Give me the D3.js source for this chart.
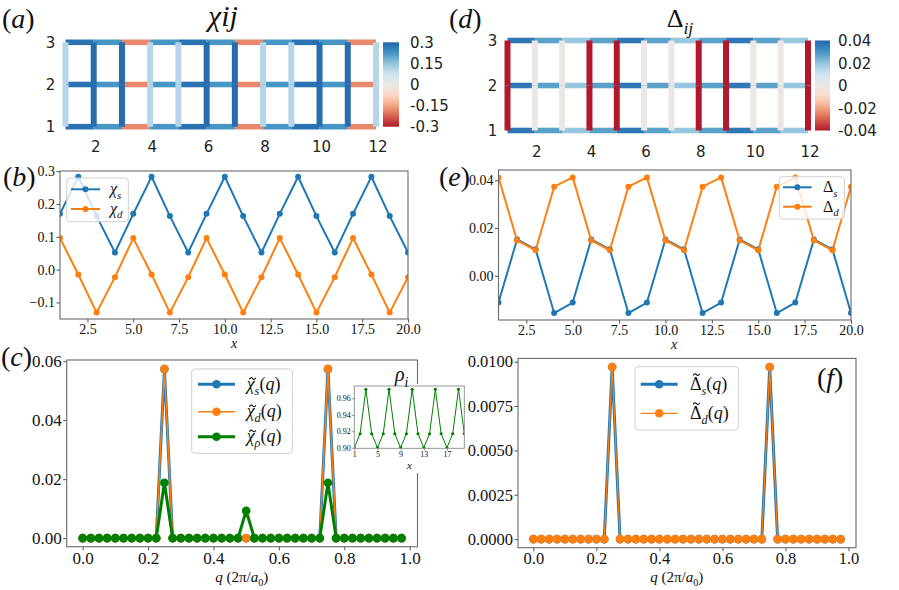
<!DOCTYPE html>
<html><head><meta charset="utf-8">
<script src="https://cdn.jsdelivr.net/npm/d3@7"></script>
<style>
body{margin:0;background:#fff;font-family:serif}
svg{display:block;font-family:serif}
svg text{font-family:serif}
svg text.sans{font-family:"DejaVu Sans",sans-serif}
</style>
</head><body>
<svg id="fig" width="899" height="590" font-family="serif"></svg>
<script>
// ---------------- DATA ----------------
const latticeCols = [1,2,3,4,5,6,7,8,9,10,11,12];
const latticeRows = [1,2,3];
const latticeXTicks = [2,4,6,8,10,12];
// chi_ij bonds (a): horizontal bonds per row (bond i -> i+1), vertical bonds per column
const chiH1 = [0.28,0.22,-0.18,0.22,0.28,0.22,-0.18,0.22,0.28,0.22,-0.18];
const chiH2 = [0.28,0.22,-0.18,0.22,0.28,0.22,-0.18,0.22,0.28,0.22,-0.18];
const chiH3 = [0.28,0.22,-0.18,0.22,0.28,0.22,-0.18,0.22,0.28,0.22,-0.18];
const chiV12 = [0.11,0.29,0.29,0.11,0.11,0.29,0.29,0.11,0.11,0.29,0.29,0.11];
const chiV23 = [0.11,0.29,0.29,0.11,0.11,0.29,0.29,0.11,0.11,0.29,0.29,0.11];
const chiCbTicks = [0.3,0.15,0,-0.15,-0.3];
const chiCbLabels = ["0.3","0.15","0","-0.15","-0.3"];
// Delta_ij bonds (d)
const dH1 = [0.036,0.027,0.019,0.027,0.036,0.027,0.019,0.027,0.036,0.027,0.019];
const dH2 = [0.036,0.027,0.019,0.027,0.036,0.027,0.019,0.027,0.036,0.027,0.019];
const dH3 = [0.036,0.027,0.019,0.027,0.036,0.027,0.019,0.027,0.036,0.027,0.019];
const dV12 = [-0.04,0,0,-0.04,-0.04,0,0,-0.04,-0.04,0,0,-0.04];
const dV23 = [-0.04,0,0,-0.04,-0.04,0,0,-0.04,-0.04,0,0,-0.04];
const dCbTicks = [0.04,0.02,0,-0.02,-0.04];
const dCbLabels = ["0.04","0.02","0","-0.02","-0.04"];

// real-space profiles (b), (e), inset
const xSites = [1,2,3,4,5,6,7,8,9,10,11,12,13,14,15,16,17,18,19,20];
const chiS = [0.170,0.283,0.163,0.052,0.170,0.283,0.163,0.052,0.170,0.283,0.163,0.052,0.170,0.283,0.163,0.052,0.170,0.283,0.163,0.052];
const chiD = [0.096,-0.015,-0.131,-0.023,0.096,-0.015,-0.131,-0.023,0.096,-0.015,-0.131,-0.023,0.096,-0.015,-0.131,-0.023,0.096,-0.015,-0.131,-0.023];
const deltaS = [-0.0112,0.0152,0.0111,-0.0156,-0.0112,0.0152,0.0111,-0.0156,-0.0112,0.0152,0.0111,-0.0156,-0.0112,0.0152,0.0111,-0.0156,-0.0112,0.0152,0.0111,-0.0156];
const deltaD = [0.0412,0.0148,0.0107,0.0373,0.0412,0.0148,0.0107,0.0373,0.0412,0.0148,0.0107,0.0373,0.0412,0.0148,0.0107,0.0373,0.0412,0.0148,0.0107,0.0373];
const rhoI = [0.900,0.917,0.971,0.917,0.900,0.917,0.971,0.917,0.900,0.917,0.971,0.917,0.900,0.917,0.971,0.917,0.900,0.917,0.971,0.917];
const bXTicks = [2.5,5,7.5,10,12.5,15,17.5,20];
const bYTicks = [-0.1,0,0.1,0.2,0.3];
const eYTicks = [0,0.02,0.04];
const insetXTicks = [1,5,9,13,17];
const insetYTicks = [0.90,0.92,0.94,0.96];

// momentum space (c), (f)
const qVals = [0,0.025,0.05,0.075,0.1,0.125,0.15,0.175,0.2,0.225,0.25,0.275,0.3,0.325,0.35,0.375,0.4,0.425,0.45,0.475,
               0.5,0.525,0.55,0.575,0.6,0.625,0.65,0.675,0.7,0.725,0.75,0.775,0.8,0.825,0.85,0.875,0.9,0.925,0.95,0.975];
const chiSq = [0,0,0,0,0,0,0,0,0,0,0.0573,0,0,0,0,0,0,0,0,0, 0,0,0,0,0,0,0,0,0,0,0.0573,0,0,0,0,0,0,0,0,0];
const chiDq = [0,0,0,0,0,0,0,0,0,0,0.0574,0,0,0,0,0,0,0,0,0, 0,0,0,0,0,0,0,0,0,0,0.0574,0,0,0,0,0,0,0,0,0];
const chiRhoq = [0,0,0,0,0,0,0,0,0,0,0.0188,0,0,0,0,0,0,0,0,0, 0.0093,0,0,0,0,0,0,0,0,0,0.0188,0,0,0,0,0,0,0,0,0];
const deltaSq = [0,0,0,0,0,0,0,0,0,0,0.0097,0,0,0,0,0,0,0,0,0, 0,0,0,0,0,0,0,0,0,0,0.0097,0,0,0,0,0,0,0,0,0];
const deltaDq = [0,0,0,0,0,0,0,0,0,0,0.0097,0,0,0,0,0,0,0,0,0, 0,0,0,0,0,0,0,0,0,0,0.0097,0,0,0,0,0,0,0,0,0];
const qXTicks = [0,0.2,0.4,0.6,0.8,1.0];
const cYTicks = [0,0.02,0.04,0.06];
const fYTicks = [0,0.0025,0.005,0.0075,0.01];

// ---------------- STYLE ----------------
const BLUE = "#1f77b4", ORANGE = "#ff7f0e", GREEN = "#008000";
const rdbu = ["#b2182b","#d6604d","#f4a582","#fddbc7","#ebe7e4","#d1e5f0","#92c5de","#4393c3","#2166ac"];

const svg = d3.select('#fig');
const defs = svg.append('defs');

function mtext(parent, x, y, parts, size, anchor) {
  const t = parent.append('text').attr('x', x).attr('y', y)
    .attr('font-size', size).attr('fill', '#111')
    .attr('text-anchor', anchor || 'start');
  let shift = 0;
  parts.forEach(p => {
    const s = t.append('tspan').text(p.t);
    const target = p.sub ? size * 0.28 : 0;
    if (target !== shift) { s.attr('dy', target - shift); shift = target; }
    if (p.it) s.attr('font-style', 'italic');
    if (p.sub) s.attr('font-size', size * 0.68);
  });
  return t;
}
// accent tilde drawn as a small path
function tilde(parent, cx, cy, w) {
  const p = d3.path();
  p.moveTo(cx - w / 2, cy + w * 0.12);
  p.quadraticCurveTo(cx - w / 4, cy - w * 0.32, cx, cy);
  p.quadraticCurveTo(cx + w / 4, cy + w * 0.32, cx + w / 2, cy - w * 0.12);
  parent.append('path').attr('d', p.toString()).attr('fill', 'none').attr('stroke', '#111').attr('stroke-width', 1.1);
}

// ---------------- LATTICE PANELS ----------------
function lattice(cfg) {
  const g = svg.append('g');
  const x = d3.scaleLinear().domain([1, 12]).range([cfg.l, cfg.r]);
  const y = d3.scaleLinear().domain([1, 3]).range([cfg.b, cfg.t]);
  const col = d3.scaleLinear()
    .domain(rdbu.map((c, i) => cfg.vmin + i * (cfg.vmax - cfg.vmin) / (rdbu.length - 1)))
    .range(rdbu).clamp(true);
  const hb = [];
  cfg.H.forEach((row, ri) => row.forEach((v, i) => hb.push({a: latticeCols[i], c: latticeCols[i + 1], r: latticeRows[ri], v})));
  g.selectAll('line.hb').data(hb).join('line').attr('class', 'hb')
    .attr('x1', d => x(d.a)).attr('x2', d => x(d.c))
    .attr('y1', d => y(d.r)).attr('y2', d => y(d.r))
    .attr('stroke', d => col(d.v)).attr('stroke-width', cfg.hw);
  const vb = [];
  cfg.V.forEach((vals, si) => vals.forEach((v, i) => vb.push({c: latticeCols[i], r1: latticeRows[si], r2: latticeRows[si + 1], v})));
  g.selectAll('line.vb').data(vb).join('line').attr('class', 'vb')
    .attr('x1', d => x(d.c)).attr('x2', d => x(d.c))
    .attr('y1', d => y(d.r1)).attr('y2', d => y(d.r2))
    .attr('stroke', d => col(d.v)).attr('stroke-width', cfg.vw);
  g.selectAll('text.xt').data(latticeXTicks).join('text').attr('class', 'xt sans')
    .attr('x', d => x(d) + 2).attr('y', cfg.xly).attr('text-anchor', 'middle')
    .attr('font-size', 15).attr('fill', '#222').text(d => d);
  g.selectAll('text.yt').data(latticeRows).join('text').attr('class', 'yt sans')
    .attr('x', cfg.l - 15).attr('y', d => y(d) + 5.5).attr('text-anchor', 'middle')
    .attr('font-size', 15).attr('fill', '#222').text(d => d);
  // colorbar
  const gid = 'grad' + cfg.id;
  const grad = defs.append('linearGradient').attr('id', gid).attr('x1', 0).attr('x2', 0).attr('y1', 1).attr('y2', 0);
  d3.range(0, 1.0001, 0.05).forEach(f => grad.append('stop').attr('offset', f)
    .attr('stop-color', col(cfg.vmin + f * (cfg.vmax - cfg.vmin))));
  g.append('rect').attr('x', cfg.cbx).attr('y', cfg.t).attr('width', cfg.cbw).attr('height', cfg.b - cfg.t)
    .attr('fill', `url(#${gid})`);
  const cy = d3.scaleLinear().domain([cfg.vmin, cfg.vmax]).range([cfg.b, cfg.t]);
  g.selectAll('text.cb').data(cfg.cbTicks).join('text').attr('class', 'cb sans')
    .attr('x', cfg.cblx).attr('y', d => cy(d) + 5.5)
    .attr('font-size', 15).attr('fill', '#222')
    .text((d, i) => cfg.cbLabels[i]);
}

lattice({id: 'a', l: 65.5, r: 376, t: 42.3, b: 126.7, hw: 5.6, vw: 6, xly: 152,
  H: [chiH1, chiH2, chiH3], V: [chiV12, chiV23], vmin: -0.3, vmax: 0.3,
  cbx: 383, cbw: 16, cblx: 410, cbTicks: chiCbTicks, cbLabels: chiCbLabels});
lattice({id: 'd', l: 507.5, r: 808, t: 40.5, b: 130.5, hw: 5.6, vw: 6, xly: 157,
  H: [dH1, dH2, dH3], V: [dV12, dV23], vmin: -0.04, vmax: 0.04,
  cbx: 815, cbw: 15, cblx: 838, cbTicks: dCbTicks, cbLabels: dCbLabels});

// ---------------- LINE PANELS ----------------
function panel(cfg) {
  const g = svg.append('g');
  const x = d3.scaleLinear().domain(cfg.xd).range([cfg.l, cfg.r]);
  const y = d3.scaleLinear().domain(cfg.yd).range([cfg.b, cfg.t]);
  const cid = 'clip' + cfg.id;
  defs.append('clipPath').attr('id', cid).append('rect')
    .attr('x', cfg.l).attr('y', cfg.t).attr('width', cfg.r - cfg.l).attr('height', cfg.b - cfg.t);
  if (cfg.bg) g.append('rect').attr('x', cfg.l).attr('y', cfg.t).attr('width', cfg.r - cfg.l).attr('height', cfg.b - cfg.t).attr('fill', '#fff');
  const ts = cfg.ts || 3.5, tp = cfg.tp || 1.5;
  const gx = g.append('g').attr('transform', `translate(0,${cfg.b})`)
    .call(d3.axisBottom(x).tickValues(cfg.xt).tickFormat(d3.format(cfg.xf)).tickSize(ts).tickPadding(tp));
  const gy = g.append('g').attr('transform', `translate(${cfg.l},0)`)
    .call(d3.axisLeft(y).tickValues(cfg.yt).tickFormat(d3.format(cfg.yf)).tickSize(ts).tickPadding(tp));
  [gx, gy].forEach(a => {
    a.select('.domain').remove();
    a.attr('font-family', 'serif').attr('font-size', null);
    a.selectAll('text').attr('font-size', cfg.fs).attr('fill', '#111');
    a.selectAll('line').attr('stroke', '#222').attr('stroke-width', cfg.tw || 0.8);
  });
  const plot = g.append('g').attr('clip-path', `url(#${cid})`);
  cfg.series.forEach((s, k) => {
    const pts = cfg.xs.map((xv, i) => [xv, s.v[i]]);
    plot.append('path').datum(pts)
      .attr('d', d3.line().x(d => x(d[0])).y(d => y(d[1])))
      .attr('fill', 'none').attr('stroke', s.c).attr('stroke-width', s.lw).attr('stroke-linejoin', 'round');
    plot.selectAll('circle.s' + k).data(pts).join('circle').attr('class', 's' + k)
      .attr('cx', d => x(d[0])).attr('cy', d => y(d[1])).attr('r', s.r).attr('fill', s.c);
  });
  g.append('rect').attr('x', cfg.l).attr('y', cfg.t).attr('width', cfg.r - cfg.l).attr('height', cfg.b - cfg.t)
    .attr('fill', 'none').attr('stroke', cfg.fc || '#6a6a6a').attr('stroke-width', cfg.fw || 1.1);
  return g;
}

function legend(g, box, entries) {
  g.append('rect').attr('x', box.x).attr('y', box.y).attr('width', box.w).attr('height', box.h).attr('rx', 3)
    .attr('fill', '#fff').attr('fill-opacity', 0.8).attr('stroke', '#cfcfcf').attr('stroke-width', 1);
  entries.forEach(e => {
    g.append('line').attr('x1', box.lx1).attr('x2', box.lx2).attr('y1', e.y).attr('y2', e.y)
      .attr('stroke', e.c).attr('stroke-width', e.lw);
    g.append('circle').attr('cx', (box.lx1 + box.lx2) / 2).attr('cy', e.y).attr('r', e.r).attr('fill', e.c);
    const base = e.y + box.fs * 0.3;
    mtext(g, box.tx, base, e.parts, box.fs);
    if (e.tilde) tilde(g, box.tx + box.fs * e.tilde[0], base - box.fs * e.tilde[1], box.fs * 0.36);
  });
}

// (b)
const gb = panel({id: 'b', l: 60, r: 408, t: 171, b: 319, xd: [1, 20], yd: [-0.1505, 0.3005],
  xt: bXTicks, yt: bYTicks, xf: '.1f', yf: '.1f', fs: 14, xs: xSites,
  series: [{v: chiS, c: BLUE, lw: 2, r: 3}, {v: chiD, c: ORANGE, lw: 2, r: 3}]});
legend(gb, {x: 66.7, y: 178, w: 61.6, h: 43.7, lx1: 71, lx2: 100, tx: 110, fs: 16}, [
  {y: 189.3, c: BLUE, lw: 2, r: 3, parts: [{t: 'χ', it: true}, {t: 's', it: true, sub: true}]},
  {y: 209, c: ORANGE, lw: 2, r: 3, parts: [{t: 'χ', it: true}, {t: 'd', it: true, sub: true}]}]);
mtext(gb, 234, 348, [{t: 'x', it: true}], 14, 'middle');

// (e)
const ge = panel({id: 'e', l: 498.5, r: 851, t: 170, b: 320, xd: [1, 20], yd: [-0.0185, 0.0443],
  xt: bXTicks, yt: eYTicks, xf: '.1f', yf: '.2f', fs: 14, xs: xSites,
  series: [{v: deltaS, c: BLUE, lw: 2, r: 3}, {v: deltaD, c: ORANGE, lw: 2, r: 3}]});
legend(ge, {x: 779.3, y: 176.7, w: 65, h: 42.3, lx1: 783, lx2: 811.7, tx: 823, fs: 16}, [
  {y: 187.3, c: BLUE, lw: 2, r: 3, parts: [{t: 'Δ'}, {t: 's', it: true, sub: true}]},
  {y: 206.7, c: ORANGE, lw: 2, r: 3, parts: [{t: 'Δ'}, {t: 'd', it: true, sub: true}]}]);
mtext(ge, 674, 349, [{t: 'x', it: true}], 14, 'middle');

// (c)
const gc = panel({id: 'c', l: 66.7, r: 417.5, t: 360, b: 546.7, xd: [-0.04875, 1.02375], yd: [-0.0029, 0.0604],
  xt: qXTicks, yt: cYTicks, xf: '.1f', yf: '.2f', fs: 17, xs: qVals,
  series: [{v: chiSq, c: BLUE, lw: 3, r: 4.3}, {v: chiDq, c: ORANGE, lw: 1.5, r: 4.3}, {v: chiRhoq, c: GREEN, lw: 3, r: 4.3}]});
legend(gc, {x: 191.7, y: 369, w: 100.6, h: 84.3, lx1: 198, lx2: 235, tx: 246.7, fs: 18}, [
  {y: 384.3, c: BLUE, lw: 3, r: 4.3, tilde: [0.33, 0.62], parts: [{t: 'χ', it: true}, {t: 's', it: true, sub: true}, {t: '('}, {t: 'q', it: true}, {t: ')'}]},
  {y: 411.7, c: ORANGE, lw: 1.5, r: 4.3, tilde: [0.33, 0.62], parts: [{t: 'χ', it: true}, {t: 'd', it: true, sub: true}, {t: '('}, {t: 'q', it: true}, {t: ')'}]},
  {y: 436.7, c: GREEN, lw: 3, r: 4.3, tilde: [0.33, 0.62], parts: [{t: 'χ', it: true}, {t: 'ρ', it: true, sub: true}, {t: '('}, {t: 'q', it: true}, {t: ')'}]}]);
mtext(gc, 241.7, 582, [{t: 'q', it: true}, {t: ' (2π/'}, {t: 'a', it: true}, {t: '0', sub: true}, {t: ')'}], 15, 'middle');

// cover behind inset, then inset
svg.append('rect').attr('x', 337).attr('y', 384).attr('width', 133).attr('height', 89).attr('fill', '#fff');
const gi = panel({id: 'i', l: 354.3, r: 464.3, t: 386, b: 448.3, xd: [1, 20], yd: [0.8993, 0.975],
  xt: insetXTicks, yt: insetYTicks, xf: 'd', yf: '.2f', fs: 8, ts: 2, tp: 1.5, tw: 0.6, xs: xSites, bg: true,
  fc: '#8a8a8a', fw: 0.9,
  series: [{v: rhoI, c: GREEN, lw: 1, r: 1.6}]});
mtext(gi, 409.5, 469, [{t: 'x', it: true}], 11, 'middle');
mtext(gi, 395, 381, [{t: 'ρ', it: true}, {t: 'i', it: true, sub: true}], 20);

// (f)
const gf = panel({id: 'f', l: 518, r: 856, t: 358.4, b: 547.7, xd: [-0.04875, 1.02375], yd: [-0.000485, 0.010185],
  xt: qXTicks, yt: fYTicks, xf: '.1f', yf: '.4f', fs: 16.5, xs: qVals,
  series: [{v: deltaSq, c: BLUE, lw: 3, r: 4.3}, {v: deltaDq, c: ORANGE, lw: 1.2, r: 4.3}]});
legend(gf, {x: 635, y: 366.7, w: 103.3, h: 63.3, lx1: 640.7, lx2: 677.7, tx: 690, fs: 18}, [
  {y: 384.3, c: BLUE, lw: 3, r: 4.3, tilde: [0.36, 0.84], parts: [{t: 'Δ'}, {t: 's', it: true, sub: true}, {t: '('}, {t: 'q', it: true}, {t: ')'}]},
  {y: 413.3, c: ORANGE, lw: 1.2, r: 4.3, tilde: [0.36, 0.84], parts: [{t: 'Δ'}, {t: 'd', it: true, sub: true}, {t: '('}, {t: 'q', it: true}, {t: ')'}]}]);
mtext(gf, 676.7, 582, [{t: 'q', it: true}, {t: ' (2π/'}, {t: 'a', it: true}, {t: '0', sub: true}, {t: ')'}], 15, 'middle');

// ---------------- PANEL LABELS & TITLES ----------------
const lab = (x, y, L) => mtext(svg, x, y, [{t: '('}, {t: L, it: true}, {t: ')'}], 28);
lab(2, 28, 'a'); lab(3, 186, 'b'); lab(1, 366, 'c');
lab(449, 28, 'd'); lab(439, 186, 'e'); lab(817, 387, 'f');
mtext(svg, 223, 26, [{t: 'χ', it: true}, {t: 'ij', it: true}], 30, 'middle');
mtext(svg, 680, 27, [{t: 'Δ'}, {t: 'ij', it: true, sub: true}], 26, 'middle');
</script>
</body></html>
